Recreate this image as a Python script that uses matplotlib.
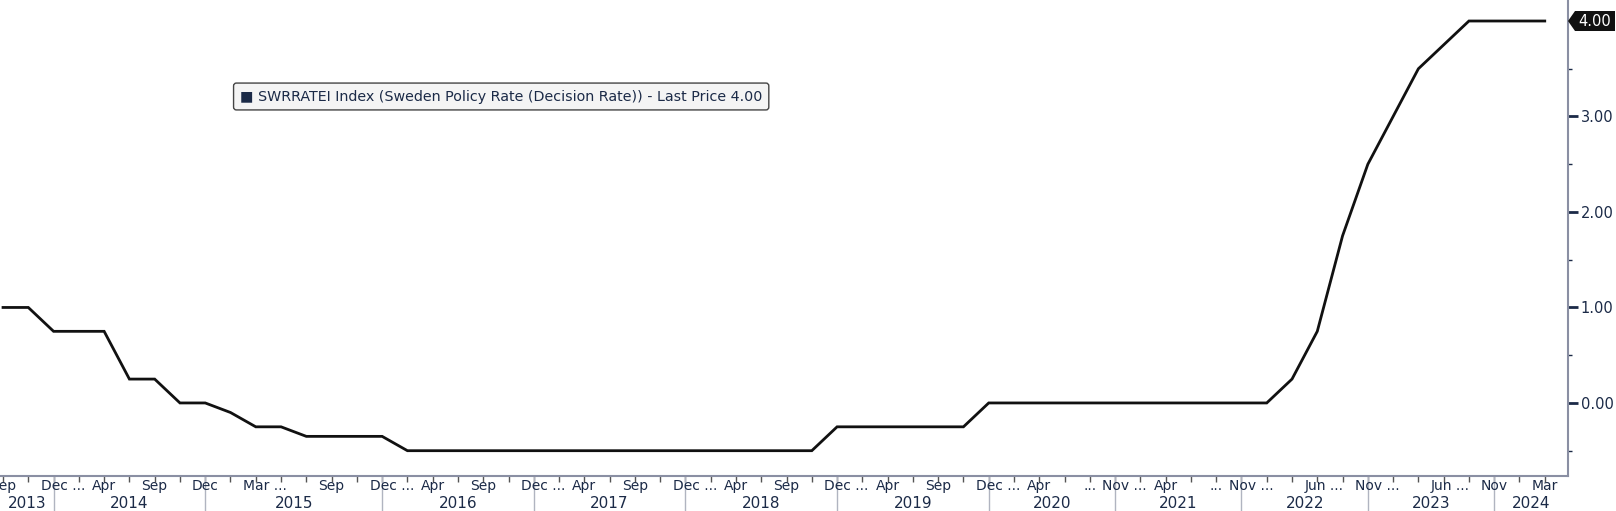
import matplotlib
matplotlib.use('Agg')
import numpy as np
import matplotlib.pyplot as plt
from matplotlib.patches import Polygon

# Riksbank policy decisions (one point per meeting, evenly spaced like the terminal chart)
years = [2013] * 3 + [2014] * 6 + [2015] * 7 + [2016] * 6 + [2017] * 6 + [2018] * 6 + \
        [2019] * 6 + [2020] * 5 + [2021] * 5 + [2022] * 5 + [2023] * 5 + [2024] * 2
rates = [1.00, 1.00, 0.75,
         0.75, 0.75, 0.25, 0.25, 0.00, 0.00,
         -0.10, -0.25, -0.25, -0.35, -0.35, -0.35, -0.35,
         -0.50, -0.50, -0.50, -0.50, -0.50, -0.50,
         -0.50, -0.50, -0.50, -0.50, -0.50, -0.50,
         -0.50, -0.50, -0.50, -0.50, -0.50, -0.25,
         -0.25, -0.25, -0.25, -0.25, -0.25, 0.00,
         0.00, 0.00, 0.00, 0.00, 0.00,
         0.00, 0.00, 0.00, 0.00, 0.00,
         0.00, 0.25, 0.75, 1.75, 2.50,
         3.00, 3.50, 3.75, 4.00, 4.00,
         4.00, 4.00]
month_labels = ["Sep", "", "Dec ...",
                "", "Apr", "", "Sep", "", "Dec",
                "", "Mar ...", "", "", "Sep", "", "Dec ...",
                "", "Apr", "", "Sep", "", "Dec ...",
                "", "Apr", "", "Sep", "", "Dec ...",
                "", "Apr", "", "Sep", "", "Dec ...",
                "", "Apr", "", "Sep", "", "Dec ...",
                "", "Apr", "", "...", "Nov ...",
                "", "Apr", "", "...", "Nov ...",
                "", "", "Jun ...", "", "Nov ...",
                "", "", "Jun ...", "", "Nov",
                "", "Mar"]
ytick_vals = [0, 1, 2, 3]
last_price = 4.00

navy = '#1b2a47'
x = np.arange(len(rates))

fig = plt.figure(figsize=(16.16, 5.11), dpi=100)
ax = fig.add_axes([0.0, 0.0685, 0.9703, 0.9315])
ax.plot(x, rates, color='#111111', lw=2.0, solid_joinstyle='miter')

ax.set_xlim(-0.12, 61.92)
ax.set_ylim(-0.765, 4.22)

for s in ['top', 'left']:
    ax.spines[s].set_visible(False)
ax.spines['right'].set_color('#8a8fa3')
ax.spines['bottom'].set_color('#8a8fa3')
ax.spines['right'].set_linewidth(1.5)
ax.spines['bottom'].set_linewidth(1.5)

# y axis on the right
ax.yaxis.tick_right()
ax.set_yticks(ytick_vals)
ax.set_yticklabels(['%.2f' % v for v in ytick_vals], color=navy, fontsize=10.5)
ax.set_yticks(np.arange(-0.5, 4.0, 1.0), minor=True)
ax.tick_params(axis='y', which='major', length=7, width=2, color=navy, pad=2)
ax.tick_params(axis='y', which='minor', length=3, width=1, color=navy)

# x axis: a tick at every meeting, labels drawn by hand
ax.set_xticks(x)
ax.set_xticklabels([])
ax.tick_params(axis='x', which='major', length=4, width=1, color='#555555')

for i, lab in enumerate(month_labels):
    if not lab:
        continue
    if lab.endswith('...') and lab != '...':
        word = lab.split()[0]
        ax.annotate(lab, xy=(i, 0), xycoords=('data', 'axes fraction'),
                    xytext=(-len(word) * 4.2, -3), textcoords='offset pixels',
                    ha='left', va='top', fontsize=10, color=navy, annotation_clip=False)
    else:
        ax.annotate(lab, xy=(i, 0), xycoords=('data', 'axes fraction'),
                    xytext=(0, -3), textcoords='offset pixels',
                    ha='center', va='top', fontsize=10, color=navy, annotation_clip=False)

# year separators and year labels
years_arr = np.array(years)
uniq = sorted(set(years))
edges = [-0.12]
for yv in uniq:
    last_i = np.where(years_arr == yv)[0][-1]
    if yv != uniq[-1]:
        edges.append(last_i)
        ax.plot([last_i, last_i], [0, -0.075], transform=ax.get_xaxis_transform(),
                color='#b0b4c0', lw=1, clip_on=False)
edges.append(61.92)
for k, yv in enumerate(uniq):
    mid = (edges[k] + edges[k + 1]) / 2.0
    ax.annotate(str(yv), xy=(mid, 0), xycoords=('data', 'axes fraction'),
                xytext=(0, -20), textcoords='offset pixels',
                ha='center', va='top', fontsize=11, color=navy, annotation_clip=False)

# last price tag
fig.canvas.draw()
px, py = ax.transData.transform((61.92, last_price))
W, H = fig.bbox.width, fig.bbox.height
tag = [(px, py), (px + 7, py + 10), (px + 47, py + 10), (px + 47, py - 10), (px + 7, py - 10)]
fig.patches.append(Polygon([(a / W, b / H) for a, b in tag], closed=True,
                           transform=fig.transFigure, facecolor='#111111', edgecolor='none'))
fig.text((px + 27) / W, py / H, '%.2f' % last_price, color='white', fontsize=10.5,
         ha='center', va='center')

# legend box
fig.text(240 / W, 1 - 96.5 / H,
         '\u25A0 SWRRATEI Index (Sweden Policy Rate (Decision Rate)) - Last Price %.2f' % last_price,
         color=navy, fontsize=10.3, ha='left', va='center',
         bbox=dict(boxstyle='round,pad=0.45,rounding_size=0.2', facecolor='#f4f4f4',
                   edgecolor='#444444', lw=1))

fig.savefig('out.png', dpi=100)
